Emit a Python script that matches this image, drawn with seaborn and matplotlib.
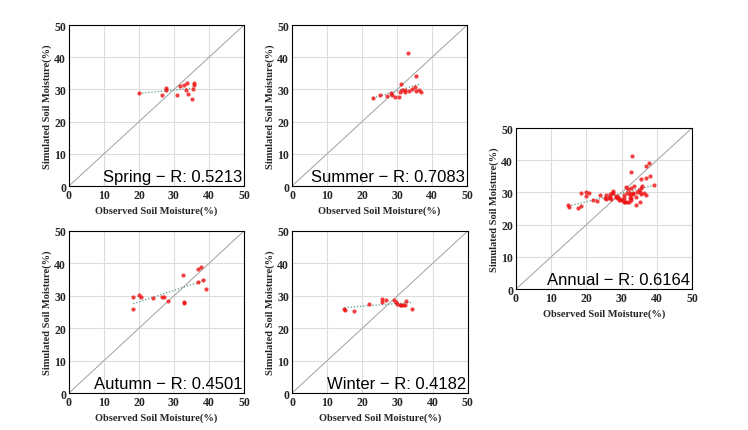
import numpy as np
import pandas as pd
import matplotlib
matplotlib.use("Agg")
import matplotlib.pyplot as plt
import seaborn as sns

# observed / simulated soil moisture (%)
spring_obs = [20.0, 26.5, 27.7, 27.7, 30.8, 31.7, 32.8, 33.6, 33.3, 34.0, 35.2, 35.3, 35.6, 35.7]
spring_sim = [29.0, 28.2, 30.5, 29.9, 28.2, 31.1, 31.3, 32.0, 29.9, 28.7, 27.0, 30.3, 31.5, 32.0]

summer_obs = [23.1, 25.2, 27.0, 28.4, 28.6, 29.3, 30.5, 30.8, 31.2, 31.5,
              32.4, 32.4, 33.0, 33.3, 34.4, 35.0, 35.4, 35.5, 36.3, 36.8]
summer_sim = [27.5, 28.4, 28.0, 28.8, 28.2, 27.7, 27.7, 29.3, 31.8, 29.8,
              29.3, 29.9, 41.4, 29.5, 30.1, 30.9, 34.1, 29.6, 29.9, 29.3]

autumn_obs = [18.4, 18.4, 19.9, 20.7, 23.9, 26.6, 27.2, 28.3, 32.6, 32.8, 32.8, 36.8, 37.0, 37.7, 38.2, 39.2]
autumn_sim = [29.7, 25.8, 30.2, 29.7, 29.2, 29.5, 29.7, 28.5, 36.3, 28.2, 27.8, 38.2, 34.4, 39.0, 35.0, 32.2]

winter_obs = [14.9, 15.1, 17.7, 21.8, 25.5, 25.5, 26.6, 28.9, 29.6, 29.8, 30.6, 31.1, 31.5, 32.1, 32.3, 34.2]
winter_sim = [26.0, 25.5, 25.3, 27.6, 29.1, 28.1, 28.7, 28.7, 28.1, 27.6, 27.1, 27.1, 27.1, 27.1, 28.4, 26.0]

panel_names = ["Spring", "Summer", "Autumn", "Winter", "Annual"]
r_values = ["0.5213", "0.7083", "0.4501", "0.4182", "0.6164"]

series = {
    "Spring": (spring_obs, spring_sim),
    "Summer": (summer_obs, summer_sim),
    "Autumn": (autumn_obs, autumn_sim),
    "Winter": (winter_obs, winter_sim),
}
series["Annual"] = (spring_obs + summer_obs + autumn_obs + winter_obs,
                    spring_sim + summer_sim + autumn_sim + winter_sim)

sns.set_style("whitegrid", {"grid.color": "#dddddd", "axes.edgecolor": "black"})
plt.rcParams['font.family'] = ['Liberation Serif', 'DejaVu Serif']

fig = plt.figure(figsize=(7.48, 4.31), dpi=100)
positions = {
    "Spring": [0.0922, 0.566, 0.234, 0.3735],
    "Summer": [0.3904, 0.566, 0.234, 0.3735],
    "Autumn": [0.0922, 0.0858, 0.234, 0.376],
    "Winter": [0.3904, 0.0858, 0.235, 0.376],
    "Annual": [0.6898, 0.327, 0.2353, 0.3735],
}

for name, r in zip(panel_names, r_values):
    obs, sim = series[name]
    df = pd.DataFrame({"obs": obs, "sim": sim})
    ax = fig.add_axes(positions[name])
    ax.plot([0, 50], [0, 50], color="#a0a0a0", lw=0.7, zorder=1)
    sns.regplot(data=df, x="obs", y="sim", ax=ax, ci=None,
                scatter_kws={"color": "#ee1111", "marker": "s", "s": 9, "linewidths": 0, "zorder": 3},
                line_kws={"color": "#5a9a8a", "lw": 0.9, "ls": (0, (1, 1.5)), "zorder": 2})
    ax.set_xlim(0, 50)
    ax.set_ylim(0, 50)
    ax.set_xticks(range(0, 51, 10))
    ax.set_yticks(range(0, 51, 10))
    for sp in ax.spines.values():
        sp.set_linewidth(0.8)
    ax.tick_params(labelsize=8.5, pad=2, length=0)
    for lab in ax.get_xticklabels() + ax.get_yticklabels():
        lab.set_fontweight("bold")
    ax.set_xlabel("Observed Soil Moisture(%)", fontsize=7.5, fontweight="bold", labelpad=3)
    ax.set_ylabel("Simulated Soil Moisture(%)", fontsize=7.5, fontweight="bold", labelpad=2)
    ax.text(0.99, 0.015, f"{name} − R: {r}", transform=ax.transAxes,
            ha="right", va="bottom", fontsize=12, family="Liberation Sans",
            color="black")

fig.savefig("out.png", dpi=100)
